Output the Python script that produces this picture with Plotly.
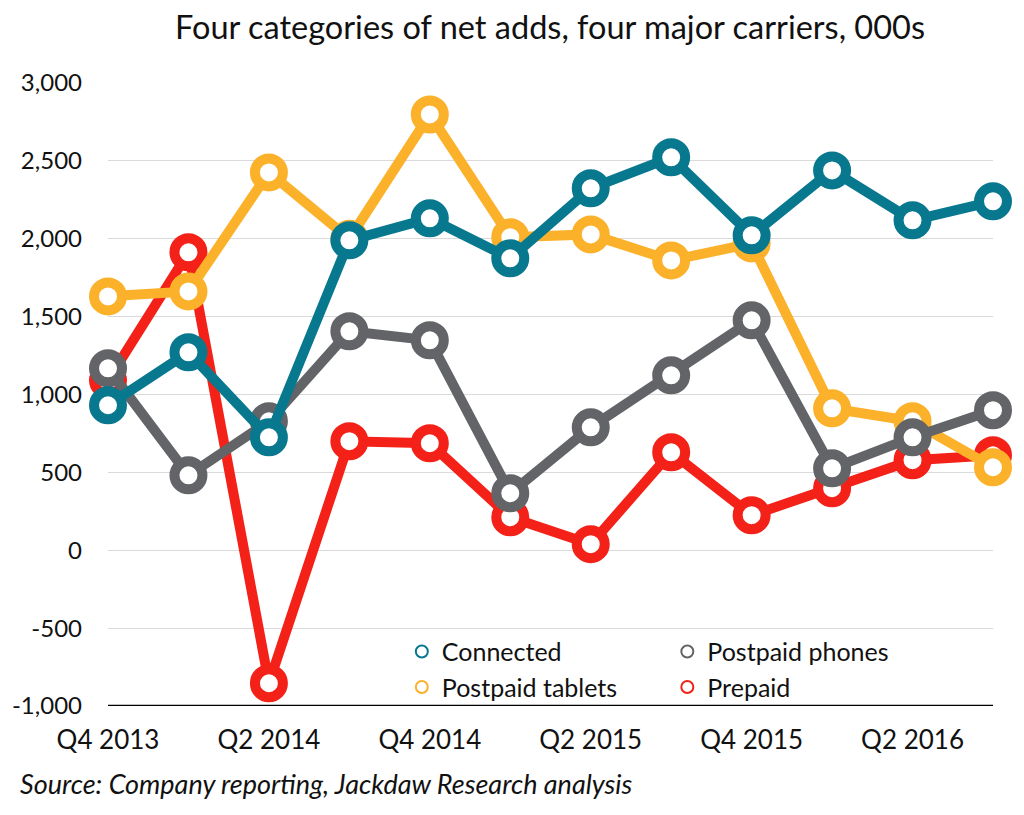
import plotly.graph_objects as go

quarters = ["Q4 2013", "Q1 2014", "Q2 2014", "Q3 2014", "Q4 2014", "Q1 2015",
            "Q2 2015", "Q3 2015", "Q4 2015", "Q1 2016", "Q2 2016", "Q3 2016"]
connected = [931, 1271, 725, 1990, 2131, 1874, 2324, 2523, 2022, 2439, 2118, 2240]
postpaid_tablets = [1630, 1662, 2426, 2000, 2798, 2010, 2028, 1861, 1970, 911, 828, 533]
postpaid_phones = [1168, 481, 828, 1406, 1348, 366, 789, 1123, 1476, 526, 725, 899]
prepaid = [1091, 1913, -854, 700, 687, 212, 39, 629, 225, 398, 578, 610]

y_ticks = [-1000, -500, 0, 500, 1000, 1500, 2000, 2500, 3000]
y_ticktext = ["-1,000", "-500", "0", "500", "1,000", "1,500", "2,000", "2,500", "3,000"]
x_ticks = quarters[::2]

colors = {
    "Connected": "#08788F",
    "Postpaid tablets": "#FCB12B",
    "Postpaid phones": "#636467",
    "Prepaid": "#F42119",
}

series = [("Prepaid", prepaid), ("Postpaid tablets", postpaid_tablets),
          ("Postpaid phones", postpaid_phones), ("Connected", connected)]
legend_of = {"Connected": "legend", "Postpaid tablets": "legend",
             "Postpaid phones": "legend2", "Prepaid": "legend2"}

FONT = "Lato"
fig = go.Figure()
for name, vals in series:
    c = colors[name]
    fig.add_trace(go.Scatter(
        x=quarters, y=vals, mode="lines+markers", name=name, showlegend=False,
        line=dict(color=c, width=10),
        marker=dict(symbol="circle", size=28, color="white", line=dict(color=c, width=10)),
        cliponaxis=False,
    ))

for name in ["Connected", "Postpaid tablets", "Postpaid phones", "Prepaid"]:
    c = colors[name]
    fig.add_trace(go.Scatter(
        x=[None], y=[None], mode="markers", name=name, legend=legend_of[name],
        marker=dict(symbol="circle", size=15, color="white", line=dict(color=c, width=6)),
    ))

leg_common = dict(orientation="v", y=0.124, xanchor="left", yanchor="top",
                  bgcolor="rgba(0,0,0,0)", font=dict(size=25, family=FONT, color="#111111"),
                  itemsizing="constant", tracegroupgap=0)

fig.update_layout(
    width=1024, height=815,
    margin=dict(l=100, r=39, t=75, b=117, autoexpand=False),
    paper_bgcolor="white", plot_bgcolor="white",
    font=dict(family=FONT, color="#111111", size=25),
    title=dict(text="Four categories of net adds, four major carriers, 000s",
               x=542/1024, xref="container", xanchor="center",
               y=1 - 20/815, yref="container", yanchor="middle",
               font=dict(family=FONT, size=32.5, color="#111111")),
    xaxis=dict(type="category", range=[0, 11], tickmode="array", tickvals=x_ticks,
               showgrid=False, showline=False, zeroline=False, ticks="", automargin=False,
               tickfont=dict(size=26), ticklabelstandoff=16),
    yaxis=dict(range=[-1000, 3000], tickmode="array", tickvals=y_ticks, ticktext=y_ticktext,
               showgrid=True, gridcolor="#DADADA", gridwidth=1, zeroline=False, automargin=False,
               showline=False, ticks="", tickfont=dict(size=24), ticklabelstandoff=25),
    legend=dict(x=0.332, **leg_common),
    legend2=dict(x=0.632, **leg_common),
    showlegend=True,
)

fig.add_shape(type="line", xref="paper", yref="y", x0=0, x1=1, y0=-1000, y1=-1000,
              line=dict(color="black", width=2.5), layer="above")

fig.add_annotation(text="<i>Source: Company reporting, Jackdaw Research analysis</i>",
                   xref="paper", yref="paper", x=-0.1016, y=-77/623,
                   xanchor="left", yanchor="middle", showarrow=False,
                   font=dict(family=FONT, size=27, color="#111111"))

fig.write_html("out.html")
